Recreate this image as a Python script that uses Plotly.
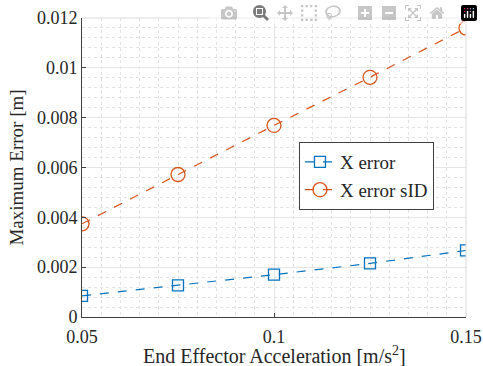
import plotly.graph_objects as go

accel = [0.05, 0.075, 0.1, 0.125, 0.15]
x_error = [0.00085, 0.00127, 0.00170, 0.00215, 0.00267]
x_error_sid = [0.00374, 0.00572, 0.00769, 0.00962, 0.01160]

x_ticks = [0.05, 0.1, 0.15]
x_tick_labels = ["0.05", "0.1", "0.15"]
y_ticks = [0, 0.002, 0.004, 0.006, 0.008, 0.01, 0.012]
y_tick_labels = ["0", "0.002", "0.004", "0.006", "0.008", "0.01", "0.012"]

blue = "#0072BD"
orange = "#D95319"
font_family = "Liberation Serif"

fig = go.Figure()
fig.add_trace(go.Scatter(
    x=accel, y=x_error, mode="lines+markers", name="X error",
    line=dict(color=blue, width=1.2, dash="dash"),
    marker=dict(symbol="square-open", size=11, color=blue, line=dict(width=1.3)),
))
fig.add_trace(go.Scatter(
    x=accel, y=x_error_sid, mode="lines+markers", name="X error sID",
    line=dict(color=orange, width=1.2, dash="dash"),
    marker=dict(symbol="circle-open", size=14, color=orange, line=dict(width=1.3)),
))

axis_common = dict(
    showline=True, linecolor="#404040", linewidth=1, mirror=False,
    ticks="inside", ticklen=4, tickcolor="#404040",
    showgrid=True, gridcolor="#e6e6e6", gridwidth=1,
    zeroline=False, automargin=False,
    tickfont=dict(family=font_family, size=18, color="#262626"),
)

fig.update_layout(
    width=483, height=366,
    margin=dict(l=82, r=17, t=18, b=49),
    plot_bgcolor="white", paper_bgcolor="white",
    font=dict(family=font_family, color="#262626"),
    showlegend=True,
    legend=dict(
        x=0.565, y=0.585, xanchor="left", yanchor="top",
        bgcolor="white", bordercolor="#404040", borderwidth=1,
        font=dict(family=font_family, size=19, color="#262626"),
        tracegroupgap=0, itemwidth=30,
    ),
    xaxis=dict(
        **axis_common,
        range=[0.05, 0.15],
        tickvals=x_ticks, ticktext=x_tick_labels,
        ticklabelstandoff=3,
        minor=dict(dtick=0.005, tick0=0.05, showgrid=True, gridcolor="#e3e3e3", griddash="dot", ticks=""),
    ),
    yaxis=dict(
        **axis_common,
        range=[0, 0.012],
        tickvals=y_ticks, ticktext=y_tick_labels,
        minor=dict(dtick=0.0004, tick0=0, showgrid=True, gridcolor="#e3e3e3", griddash="dot", ticks=""),
        title=dict(text="Maximum Error [m]", font=dict(family=font_family, size=19, color="#262626"), standoff=8),
    ),
    annotations=[
        dict(text="End Effector Acceleration [m/s<sup>2</sup>]", xref="paper", yref="paper",
             x=0.5, y=-0.128, xanchor="center", yanchor="middle", showarrow=False,
             font=dict(family=font_family, size=20, color="#262626")),
    ],
    shapes=[
        dict(type="line", xref="paper", yref="paper", x0=0, x1=1, y0=1, y1=1, line=dict(color="#d9d9d9", width=1)),
        dict(type="line", xref="paper", yref="paper", x0=1, x1=1, y0=0, y1=1, line=dict(color="#d9d9d9", width=1)),
    ],
)

fig.write_html(
    "out.html",
    post_script="document.body.style.margin='0';document.body.style.overflow='hidden';",
)
